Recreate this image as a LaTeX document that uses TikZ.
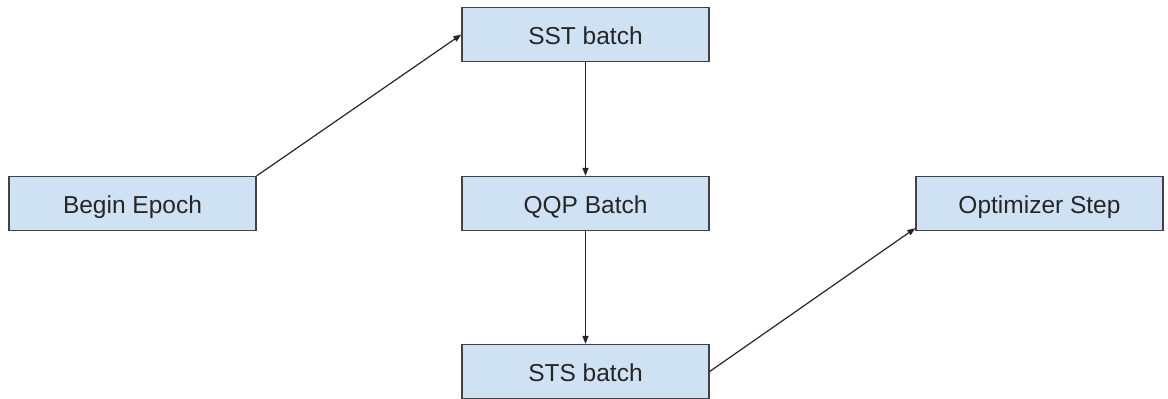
\documentclass[tikz,border=0pt]{standalone}
\usepackage{fontspec}
\setmainfont{Liberation Sans}
\usetikzlibrary{arrows.meta}
\definecolor{boxfill}{HTML}{CFE2F3}
\definecolor{boxline}{HTML}{434343}
\begin{document}
\begin{tikzpicture}[x=1pt,y=-1pt,
  stagebox/.style={draw=boxline,fill=boxfill,line width=1.3pt,minimum width=247pt,minimum height=54pt,inner sep=0pt,text height=22pt,text depth=2pt,font=\fontsize{24.5}{29}\selectfont,text=black!85},
  conn/.style={draw=black!85,line width=1.2pt,-{Triangle[length=8pt,width=6pt]}}]
\useasboundingbox (0,0) rectangle (1168,399);
\node[stagebox] (begin) at (132.5,203.5) {Begin Epoch};
\node[stagebox] (sst) at (585.5,34.5) {SST batch};
\node[stagebox] (qqp) at (585.5,203.5) {QQP Batch};
\node[stagebox] (sts) at (585.5,371.5) {STS batch};
\node[stagebox] (opt) at (1039.5,203.5) {Optimizer Step};
\draw[conn] (begin.north east) -- (sst.west);
\draw[conn] (sst.south) -- (qqp.north);
\draw[conn] (qqp.south) -- (sts.north);
\draw[conn] (sts.east) -- ([yshift=3pt]opt.south west);
\end{tikzpicture}
\end{document}
